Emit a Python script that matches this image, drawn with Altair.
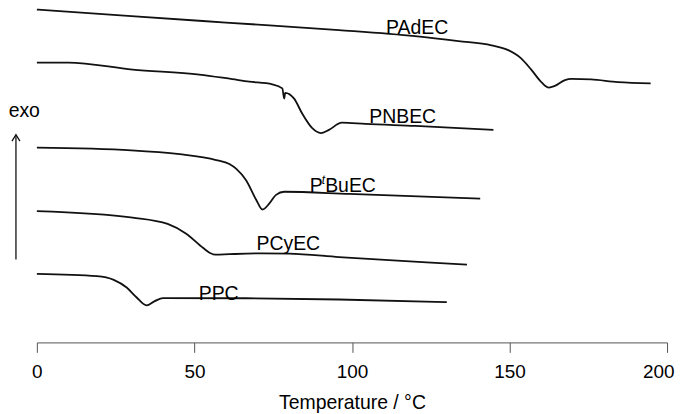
import altair as alt
import pandas as pd

# DSC traces: temperature (°C) and heat flow (arbitrary units, offset per trace)
padec_T = [0, 30, 60, 95.9, 120, 133.8, 144.3, 149.6, 153.7, 156.9, 160.1, 162.5, 164.4, 167.6, 169.6, 175.9, 184.4, 194.8]
padec_v = [341.3, 334.5, 328, 320.3, 314, 309, 304.7, 299.7, 291.3, 279.7, 267, 261.3, 263, 269, 270.3, 269.7, 267, 265.7]

pnbec_T = [0, 10, 30.4, 51.6, 62, 67.4, 74.7, 77.9, 78.5, 78.8, 81.7, 84.2, 87.4, 90.1, 92.7, 96.8, 104.3, 120.1, 144.9]
pnbec_v = [287, 287, 279.7, 274.7, 270, 267.5, 264.7, 260.5, 250, 256, 249.7, 234.7, 219.7, 214.7, 218, 225.3, 224, 222, 218]

ptbuec_T = [0, 30, 45.3, 56.9, 61.1, 63.3, 66.4, 69.6, 71.6, 73.8, 75.9, 78.5, 99.1, 140.7]
ptbuec_v = [199.7, 197, 193, 187, 183, 178, 166.3, 146.3, 136.3, 142.5, 151.3, 154.5, 152.3, 147.5]

pcyec_T = [0, 30.4, 41.5, 47.4, 52.7, 54.8, 56.7, 61.1, 71.5, 80.1, 95.9, 123.7, 136.5]
pcyec_v = [134.7, 128, 121.5, 111.5, 97, 92, 90, 90.5, 91.3, 91, 87.5, 82, 79.7]

ppc_T = [0, 19.1, 24.4, 28.5, 31.6, 34.8, 37.4, 40.0, 66.4, 95.9, 130.1]
ppc_v = [70.3, 68, 64.2, 56.3, 46.3, 38, 42.3, 45.5, 45.3, 44, 41.3]

# labels
center_labels = ["PAdEC", "PNBEC", "PCyEC", "PPC", "exo"]
center_T = [120.7, 116.1, 79.8, 57.7, -4.0]
center_v = [322.3, 231.3, 101.3, 49.7, 237]

tick_values = [0, 50, 100, 150, 200]

rows = []
for name, T, v in [("PAdEC", padec_T, padec_v), ("PNBEC", pnbec_T, pnbec_v),
                   ("PtBuEC", ptbuec_T, ptbuec_v), ("PCyEC", pcyec_T, pcyec_v),
                   ("PPC", ppc_T, ppc_v)]:
    for t, val in zip(T, v):
        rows.append({"series": name, "T": t, "v": val})
curves = pd.DataFrame(rows)

FONT = "Liberation Sans"
xscale = alt.Scale(domain=[0, 200], nice=False)
yscale = alt.Scale(domain=[0, 342], nice=False, zero=False)

lines = alt.Chart(curves).mark_line(color="#111", strokeWidth=1.8, interpolate="monotone").encode(
    x=alt.X("T:Q", scale=xscale,
            axis=alt.Axis(title="Temperature / °C", values=tick_values, grid=False,
                          tickSize=10, tickColor="#555", domainColor="#555",
                          labelFont=FONT, labelFontSize=19, labelColor="black",
                          labelFlush=False, labelOverlap=False,
                          labelAlign={"condition": {"test": "datum.value == 200", "value": "right"}, "value": "center"},
                          labelOffset={"condition": {"test": "datum.value == 200", "value": 7}, "value": 0},
                          labelPadding=10, titleFont=FONT, titleFontSize=19.5,
                          titleFontWeight="normal", titleColor="black", titlePadding=12)),
    y=alt.Y("v:Q", scale=yscale, axis=None),
    detail="series:N",
)

lab_df = pd.DataFrame({"T": center_T, "v": center_v, "text": center_labels})
labels = alt.Chart(lab_df).mark_text(font=FONT, fontSize=19.5, align="center", color="black").encode(
    x=alt.X("T:Q", scale=xscale), y=alt.Y("v:Q", scale=yscale), text="text:N")

left_df = pd.DataFrame({"T": [86.6, 91.5], "v": [160.3, 160.3], "text": ["P", "BuEC"]})
left_labels = alt.Chart(left_df).mark_text(font=FONT, fontSize=19.5, align="left", color="black").encode(
    x=alt.X("T:Q", scale=xscale), y=alt.Y("v:Q", scale=yscale), text="text:N")

sup_df = pd.DataFrame({"T": [90.4], "v": [167.0], "text": ["t"]})
sup_label = alt.Chart(sup_df).mark_text(font=FONT, fontSize=12, fontStyle="italic", align="left", color="black").encode(
    x=alt.X("T:Q", scale=xscale), y=alt.Y("v:Q", scale=yscale), text="text:N")

arrow_df = pd.DataFrame({"T": [-6.64], "v0": [85.0], "v1": [213.0]})
arrow_line = alt.Chart(arrow_df).mark_rule(color="#111", strokeWidth=1.3).encode(
    x=alt.X("T:Q", scale=xscale), y=alt.Y("v0:Q", scale=yscale), y2="v1:Q")
arrow_head = alt.Chart(arrow_df).mark_point(shape="M-1,1.6L0,0L1,1.6", size=64, filled=False,
                                            color="#111", strokeWidth=1.3, opacity=1).encode(
    x=alt.X("T:Q", scale=xscale), y=alt.Y("v1:Q", scale=yscale))

chart = alt.layer(lines, labels, left_labels, sup_label, arrow_line, arrow_head).properties(
    width=633, height=335,
    autosize=alt.AutoSizeParams(type="none"),
    padding={"left": 29, "top": 0, "right": 10, "bottom": 72},
).configure_view(stroke=None)

chart.save("out.html", embed_options={"renderer": "svg", "actions": False})
